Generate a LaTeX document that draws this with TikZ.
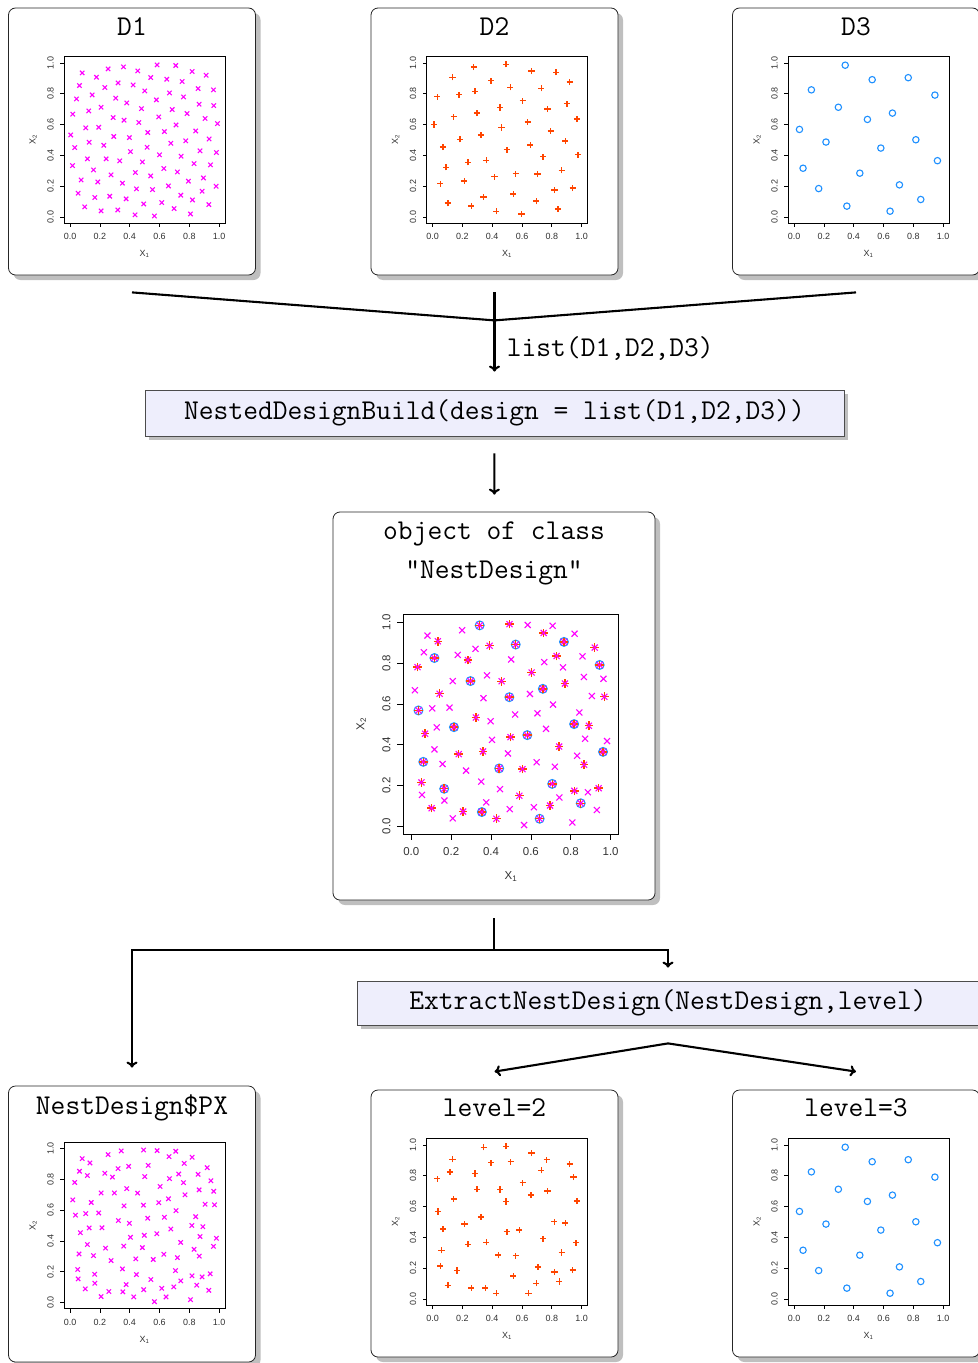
\documentclass[tikz,border=0pt]{standalone}
\usepackage{fontspec}
\usetikzlibrary{shadows,arrows.meta}
\newfontfamily\rfont{Liberation Sans}
\definecolor{rmagenta}{RGB}{255,0,255}
\definecolor{rorange}{RGB}{255,69,0}
\definecolor{rblue}{RGB}{30,144,255}
\definecolor{boxfill}{RGB}{238,238,252}
\newcommand\codefont{\ttfamily\fontsize{28.8}{34}\selectfont}
\newcommand\smallfont{\rfont\fontsize{9}{10}\selectfont}
\newcommand\bigfont{\rfont\fontsize{11.5}{13}\selectfont}
\tikzstyle{panel}=[draw=black!85, line width=0.8bp, fill=white, rounded corners=7bp, drop shadow={fill=black!25, opacity=1, shadow xshift=5bp, shadow yshift=-5bp}, minimum width=247bp, minimum height=267bp, inner sep=0pt]
\tikzstyle{callbox}=[draw=black!70, line width=0.8bp, fill=boxfill, drop shadow={fill=black!25, opacity=1, shadow xshift=4bp, shadow yshift=-4bp}, minimum height=46bp, inner sep=0pt, font=\codefont]
\tikzstyle{title}=[anchor=base, inner sep=0pt, font=\codefont]
\tikzstyle{wire}=[line width=2.1bp]
\tikzstyle{link}=[line width=2.1bp, -{To[length=6bp,width=11bp]}]
\tikzstyle{twoway}=[line width=2.1bp, {To[length=6bp,width=11bp]}-{To[length=6bp,width=11bp]}, line join=miter]
\tikzstyle{frame}=[line width=0.7bp, black]
\tikzstyle{ticklab}=[inner sep=0pt, text=black!80]
\tikzstyle{xmk}=[line width=1.1bp, rmagenta]
\tikzstyle{pmk}=[line width=1.4bp, rorange]
\tikzstyle{omk}=[line width=1.1bp, rblue]
% marker sizes
\def\xsz{2.2bp}
\def\psz{3.1bp}
\def\osz{3.2bp}
\newcommand\raxes[4]{%
  \draw[frame] (-0.04,-0.04) rectangle (1.04,1.04);
  \foreach \tk in {0.0,0.2,0.4,0.6,0.8,1.0}{
    \draw[frame] (\tk,-0.04) -- ++(0pt,-#1);
    \draw[frame] (-0.04,\tk) -- ++(-#1,0pt);
    \node[ticklab,font=#4] at ([yshift=-#2]\tk,-0.04) {\tk};
    \node[ticklab,font=#4,rotate=90] at ([xshift=-#2]-0.04,\tk) {\tk};
  }
  \node[ticklab,font=#4] at ([yshift=-#3]0.5,-0.04) {X\textsubscript{1}};
  \node[ticklab,font=#4,rotate=90] at ([xshift=-#3]-0.04,0.5) {X\textsubscript{2}};
}
\newcommand\xmarks[1]{\foreach \mx/\my in #1 {\draw[xmk] (\mx,\my) +(-\xsz,-\xsz) -- +(\xsz,\xsz) +(-\xsz,\xsz) -- +(\xsz,-\xsz);}}
\newcommand\pmarks[1]{\foreach \mx/\my in #1 {\draw[pmk] (\mx,\my) +(-\psz,0pt) -- +(\psz,0pt) +(0pt,-\psz) -- +(0pt,\psz);}}
\newcommand\omarks[1]{\foreach \mx/\my in #1 {\draw[omk] (\mx,\my) circle[radius=\osz];}}
% D1
\def\setA{0.584/0.987,0.709/0.983,0.358/0.974,0.255/0.961,0.454/0.948,0.081/0.935,0.819/0.944,0.913/0.920,0.541/0.905,0.649/0.894,%
0.177/0.907,0.752/0.879,0.322/0.870,0.423/0.857,0.063/0.853,0.233/0.840,0.501/0.818,0.859/0.833,0.962/0.825,0.667/0.805,%
0.148/0.792,0.761/0.779,0.306/0.771,0.043/0.766,0.579/0.760,0.380/0.740,0.866/0.732,0.208/0.712,0.964/0.723,0.685/0.697,%
0.479/0.703,0.125/0.688,0.785/0.671,0.018/0.667,0.289/0.645,0.362/0.628,0.595/0.649,0.906/0.639,0.461/0.613,0.711/0.597,%
0.105/0.578,0.192/0.582,0.989/0.606,0.004/0.532,0.521/0.548,0.398/0.515,0.633/0.554,0.293/0.522,0.843/0.558,0.933/0.506,%
0.776/0.494,0.128/0.485,0.031/0.450,0.226/0.465,0.517/0.452,0.676/0.478,0.872/0.429,0.405/0.424,0.982/0.418,0.600/0.403,%
0.745/0.394,0.116/0.377,0.242/0.377,0.333/0.364,0.485/0.357,0.016/0.333,0.832/0.346,0.942/0.338,0.157/0.305,0.629/0.314,%
0.438/0.288,0.720/0.292,0.275/0.273,0.541/0.266,0.895/0.253,0.074/0.240,0.186/0.227,0.351/0.219,0.794/0.232,0.660/0.201,%
0.445/0.182,0.553/0.177,0.054/0.154,0.886/0.167,0.980/0.199,0.743/0.141,0.266/0.134,0.166/0.126,0.376/0.117,0.615/0.093,%
0.821/0.110,0.494/0.084,0.931/0.080,0.098/0.065,0.698/0.054,0.208/0.039,0.320/0.045,0.436/0.013,0.566/0.006,0.808/0.019}
% D1 points left in the nested design
\def\setAk{0.081/0.935,0.255/0.961,0.584/0.987,0.709/0.983,0.819/0.944,0.063/0.853,0.233/0.840,0.322/0.870,0.501/0.818,0.667/0.805,%
0.761/0.779,0.859/0.833,0.018/0.667,0.208/0.712,0.380/0.740,0.362/0.628,0.595/0.649,0.866/0.732,0.964/0.723,0.105/0.578,%
0.192/0.582,0.521/0.548,0.711/0.597,0.633/0.554,0.843/0.558,0.906/0.639,0.128/0.485,0.398/0.515,0.676/0.478,0.405/0.424,%
0.872/0.429,0.116/0.377,0.485/0.357,0.629/0.314,0.720/0.292,0.832/0.346,0.982/0.418,0.157/0.305,0.275/0.273,0.351/0.219,%
0.445/0.182,0.743/0.141,0.886/0.167,0.054/0.154,0.166/0.126,0.376/0.117,0.494/0.084,0.615/0.093,0.931/0.080,0.208/0.039,%
0.566/0.006,0.808/0.019}
% D2
\def\setB{0.493/0.991,0.276/0.974,0.664/0.948,0.829/0.939,0.133/0.907,0.393/0.885,0.920/0.876,0.522/0.841,0.729/0.835,0.284/0.815,%
0.031/0.780,0.178/0.793,0.604/0.754,0.453/0.711,0.771/0.700,0.902/0.735,0.298/0.674,0.142/0.650,0.638/0.617,0.969/0.635,%
0.009/0.600,0.462/0.580,0.324/0.533,0.793/0.559,0.184/0.504,0.891/0.493,0.069/0.454,0.498/0.437,0.656/0.467,0.976/0.404,%
0.742/0.391,0.360/0.367,0.238/0.354,0.091/0.322,0.558/0.280,0.416/0.261,0.704/0.278,0.867/0.302,0.051/0.215,0.213/0.233,%
0.818/0.174,0.940/0.187,0.342/0.130,0.542/0.150,0.102/0.089,0.260/0.072,0.696/0.102,0.427/0.037,0.596/0.020,0.842/0.052}
% D2 points left in the nested design
\def\setBk{0.493/0.991,0.664/0.948,0.133/0.907,0.393/0.885,0.920/0.876,0.729/0.835,0.284/0.815,0.031/0.780,0.604/0.754,0.453/0.711,%
0.771/0.700,0.142/0.650,0.969/0.635,0.324/0.533,0.891/0.493,0.069/0.454,0.498/0.437,0.742/0.391,0.360/0.367,0.238/0.354,%
0.558/0.280,0.867/0.302,0.051/0.215,0.818/0.174,0.940/0.187,0.542/0.150,0.102/0.089,0.260/0.072,0.696/0.102,0.427/0.037}
% D3
\def\setC{0.343/0.985,0.524/0.891,0.766/0.904,0.116/0.825,0.945/0.791,0.297/0.712,0.492/0.633,0.660/0.674,0.036/0.568,0.214/0.486,%
0.817/0.501,0.582/0.447,0.962/0.365,0.060/0.316,0.441/0.284,0.165/0.184,0.707/0.208,0.850/0.113,0.354/0.070,0.644/0.037}
\begin{document}
\begin{tikzpicture}[x=1bp,y=-1bp]
\useasboundingbox (0,0) rectangle (977,1363);
\node[panel] (d1) at (132,141.5) {};
\node[panel] (d2) at (494.5,141.5) {};
\node[panel] (d3) at (856,141.5) {};
\node[title] (d1t) at ([yshift=-28bp]d1.north) {D1};
\node[title] (d2t) at ([yshift=-28bp]d2.north) {D2};
\node[title] (d3t) at ([yshift=-28bp]d3.north) {D3};
\node[callbox, minimum width=699bp] (build) at (494.5,413) {NestedDesignBuild(design = list(D1,D2,D3))};
\node[panel, minimum width=322bp, minimum height=388bp] (nest) at (494,706) {};
\node[title] (nestt1) at ([yshift=-28bp]nest.north) {object of class};
\node[title] (nestt2) at ([yshift=-67bp]nest.north) {"NestDesign"};
\node[callbox, minimum width=622bp, minimum height=44bp] (extract) at (668,1003) {ExtractNestDesign(NestDesign,level)};
\node[panel, minimum height=276bp] (px) at (132,1224) {};
\node[panel] (lv2) at (494.5,1223.5) {};
\node[panel] (lv3) at (856,1223.5) {};
\node[title] (pxt) at ([yshift=-29bp]px.north) {NestDesign\$PX};
\node[title] (lv2t) at ([yshift=-27bp]lv2.north) {level=2};
\node[title] (lv3t) at ([yshift=-27bp]lv3.north) {level=3};

\begin{scope}[shift={([xshift=62bp,yshift=-209.3bp]d1.north west)},x=149bp,y=154bp]
  \raxes{4bp}{13.5bp}{31bp}{\smallfont}
  \xmarks{\setA}
\end{scope}
\begin{scope}[shift={([xshift=62bp,yshift=-209.3bp]d2.north west)},x=149bp,y=154bp]
  \raxes{4bp}{13.5bp}{31bp}{\smallfont}
  \pmarks{\setB}
\end{scope}
\begin{scope}[shift={([xshift=62bp,yshift=-209.3bp]d3.north west)},x=149bp,y=154bp]
  \raxes{4bp}{13.5bp}{31bp}{\smallfont}
  \omarks{\setC}
\end{scope}
\begin{scope}[shift={([xshift=78.7bp,yshift=-314.7bp]nest.north west)},x=199.3bp,y=204bp]
  \def\xsz{3bp}\def\psz{4.3bp}\def\osz{4.4bp}
  \raxes{6bp}{17bp}{42bp}{\bigfont}
  \omarks{\setC}
  \pmarks{\setBk}
  \pmarks{\setC}
  \xmarks{\setAk}
  \xmarks{\setBk}
  \xmarks{\setC}
\end{scope}
\begin{scope}[shift={([xshift=62bp,yshift=-217bp]px.north west)},x=149bp,y=154bp]
  \raxes{4bp}{13.5bp}{31bp}{\smallfont}
  \xmarks{\setAk}
  \xmarks{\setBk}
  \xmarks{\setC}
\end{scope}
\begin{scope}[shift={([xshift=62bp,yshift=-209.3bp]lv2.north west)},x=149bp,y=154bp]
  \raxes{4bp}{13.5bp}{31bp}{\smallfont}
  \pmarks{\setBk}
  \pmarks{\setC}
\end{scope}
\begin{scope}[shift={([xshift=62bp,yshift=-209.3bp]lv3.north west)},x=149bp,y=154bp]
  \raxes{4bp}{13.5bp}{31bp}{\smallfont}
  \omarks{\setC}
\end{scope}

\coordinate (d1o) at ([yshift=-17bp]d1.south);
\coordinate (d2o) at ([yshift=-17bp]d2.south);
\coordinate (d3o) at ([yshift=-17bp]d3.south);
\coordinate (merge) at ([yshift=-45bp]d2.south);
\draw[wire] (d1o) -- (merge) -- (d3o);
\draw[link, shorten >=18bp] (d2o) -- node[right=8bp, pos=0.58, font=\codefont] {list(D1,D2,D3)} (build);
\draw[link, shorten <=17bp, shorten >=17bp] (build) -- (nest);
\coordinate (split) at ([yshift=-18bp]nest.south);
\coordinate (fork) at ([yshift=-50bp]nest.south);
\draw[wire] (split) -- (fork);
\draw[link, shorten >=18bp] (fork) -| (px);
\draw[link, shorten >=13bp] (fork) -| (extract);
\coordinate (fan) at ([yshift=-18bp]extract.south);
\coordinate (lv2in) at ([yshift=18bp]lv2.north);
\coordinate (lv3in) at ([yshift=18bp]lv3.north);
\draw[twoway] (lv2in) -- (fan) -- (lv3in);
\end{tikzpicture}
\end{document}
